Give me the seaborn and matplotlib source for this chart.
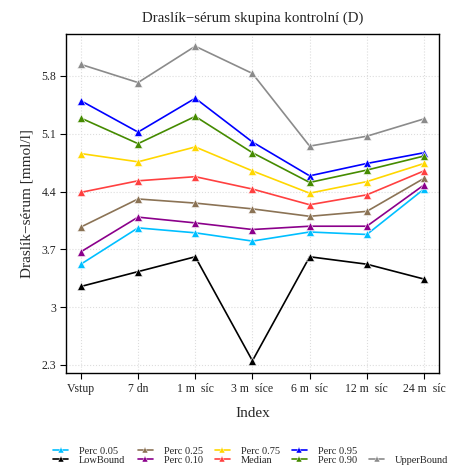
import matplotlib
matplotlib.use('Agg')
import matplotlib.pyplot as plt
import seaborn as sns
from matplotlib.lines import Line2D

# data
categories = ['Vstup', '7 dn', '1 m  síc', '3 m  síce', '6 m  síc', '12 m  síc', '24 m  síc']

perc_05 = [3.52, 3.96, 3.90, 3.80, 3.91, 3.88, 4.43]
low_bound = [3.25, 3.43, 3.61, 2.35, 3.61, 3.52, 3.34]
perc_25 = [3.97, 4.31, 4.26, 4.19, 4.10, 4.16, 4.56]
perc_10 = [3.67, 4.09, 4.02, 3.94, 3.98, 3.98, 4.48]
perc_75 = [4.86, 4.76, 4.94, 4.65, 4.38, 4.52, 4.74]
median = [4.39, 4.53, 4.58, 4.43, 4.24, 4.36, 4.65]
perc_95 = [5.50, 5.12, 5.53, 5.00, 4.59, 4.74, 4.87]
perc_90 = [5.29, 4.98, 5.31, 4.87, 4.51, 4.66, 4.83]
upper_bound = [5.94, 5.72, 6.16, 5.83, 4.95, 5.07, 5.28]

yticks = [2.3, 3.0, 3.7, 4.4, 5.1, 5.8]
ytick_labels = ['2.3', '3', '3.7', '4.4', '5.1', '5.8']

series = [
    ('Perc 0.05', perc_05, '#00BFFF'),
    ('LowBound', low_bound, '#000000'),
    ('Perc 0.25', perc_25, '#8B7355'),
    ('Perc 0.10', perc_10, '#8B008B'),
    ('Perc 0.75', perc_75, '#FFD700'),
    ('Median', median, '#FF4040'),
    ('Perc 0.95', perc_95, '#0000FF'),
    ('Perc 0.90', perc_90, '#458B00'),
    ('UpperBound', upper_bound, '#8B8B8B'),
]

sns.set_style('white')
plt.rcParams['font.family'] = ['Liberation Serif', 'DejaVu Serif']

fig = plt.figure(figsize=(4.52, 4.70), dpi=100)
ax = fig.add_axes([0.146, 0.206, 0.825, 0.722])

x = list(range(len(categories)))
handles = []
for name, vals, col in series:
    sns.lineplot(x=x, y=vals, ax=ax, color=col, marker='^', markersize=5.5,
                 markeredgecolor='white', markeredgewidth=0.4, linewidth=1.2)
    handles.append(Line2D([0], [0], color=col, marker='^', markersize=4.5,
                          markeredgecolor='white', markeredgewidth=0.3,
                          linewidth=1.2, label=name))

ax.set_xlim(-0.26, 6.26)
ax.set_ylim(2.20, 6.31)
ax.set_xticks(x)
ax.set_xticklabels(categories, fontsize=8.5)
ax.set_yticks(yticks)
ax.set_yticklabels(ytick_labels, fontsize=8.5)
ax.grid(True, color='#DDDDDD', linestyle=':', linewidth=0.8)
ax.tick_params(axis='both', direction='out', length=4, width=0.8, color='black',
               bottom=True, left=True, pad=3)
for s in ax.spines.values():
    s.set_color('black')
    s.set_linewidth(1.0)

ax.set_title('Draslík\u2212sérum skupina kontrolní (D)', fontsize=10.7, pad=9)
ax.set_xlabel('Index', fontsize=11, labelpad=9)
ax.set_ylabel('Draslík\u2212sérum [mmol/l]', fontsize=11, labelpad=6)

# blank slot so UpperBound lands in the second row of the last column
blank = Line2D([0], [0], color='none', label=' ')
leg_handles = handles[:8] + [blank, handles[8]]
fig.legend(handles=leg_handles, loc='lower center', bbox_to_anchor=(0.555, 0.0),
           ncol=5, frameon=False, fontsize=7.5, handlelength=1.45,
           columnspacing=1.15, handletextpad=1.05, labelspacing=0.0,
           borderpad=0)

fig.savefig('out.png', dpi=100)
